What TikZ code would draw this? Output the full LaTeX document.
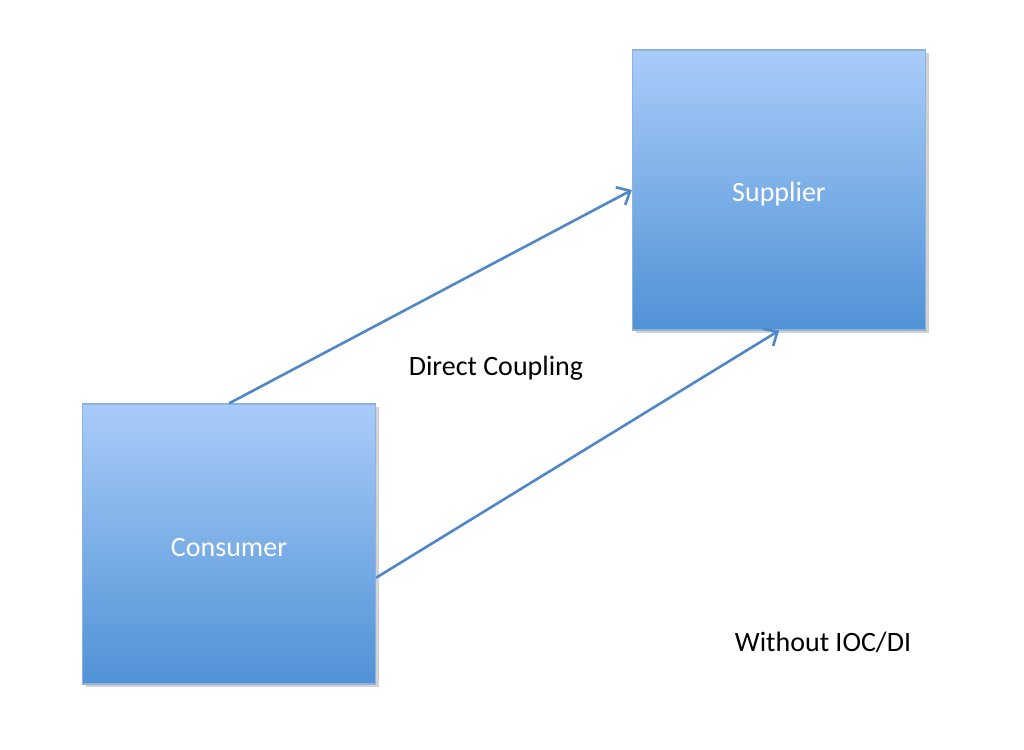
\documentclass[tikz,border=0pt]{standalone}
\usepackage{fontspec}
\setmainfont{Carlito}
\usetikzlibrary{arrows.meta,calc,shadows}
\definecolor{boxtop}{HTML}{A9CCF9}
\definecolor{boxbot}{HTML}{5092D6}
\definecolor{boxedge}{HTML}{8EB2DE}
\definecolor{arrowcol}{HTML}{4F87C8}
\tikzset{
  blockbox/.style={draw=boxedge, line width=1.2pt, top color=boxtop, bottom color=boxbot,
    minimum width=293pt, minimum height=280pt, inner sep=0pt,
    drop shadow={shadow xshift=3pt, shadow yshift=-3pt, fill=black!35, opacity=0.5}},
  boxlabel/.style={text=white, font=\fontsize{28}{32}\selectfont, inner sep=0pt},
  conn/.style={draw=arrowcol, line width=2.6pt, -{Straight Barb[length=11pt,width=20pt,line width=2.6pt]}},
  lbl/.style={font=\fontsize{28}{32}\selectfont, text=black}
}
\begin{document}
\begin{tikzpicture}[x=1pt,y=-1pt]
\useasboundingbox (0,0) rectangle (1024,749);
\node[blockbox] (supplier) at (779,190) {};
\node[blockbox] (consumer) at (229,544) {};
\node[boxlabel] (suptxt) at ([yshift=-4pt]supplier.center) {Supplier};
\node[boxlabel] (contxt) at ([yshift=-4pt]consumer.center) {Consumer};
\coordinate (cout) at ($(consumer.south east)!0.38!(consumer.north east)$);
\draw[conn] (consumer.north) -- (supplier.west);
\draw[conn] (cout) -- (supplier.south);
\node[lbl] (dc) at (496,368) {Direct Coupling};
\node[lbl] (wo) at (823,642) {Without IOC/DI};
\end{tikzpicture}
\end{document}
